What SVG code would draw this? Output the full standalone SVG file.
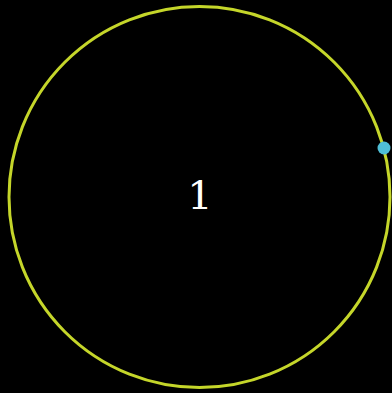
<svg xmlns="http://www.w3.org/2000/svg" width="392" height="393" viewBox="0 0 392 393">
<style>
.ring{fill:none;stroke:#c5d62a;stroke-width:3}
.dot{fill:#4fbfd6}
.lbl{font-family:"DejaVu Serif","Liberation Serif",serif;font-size:40px;fill:#ffffff;text-anchor:middle}
</style>
<rect width="392" height="393" fill="#000000"/>
<g id="circle"><circle class="ring" cx="199.5" cy="197" r="190.5"/></g>
<g id="label"><text class="lbl" x="200" y="209">1</text></g>
<g id="point"><circle class="dot" cx="384" cy="148" r="6.5"/></g>
</svg>
